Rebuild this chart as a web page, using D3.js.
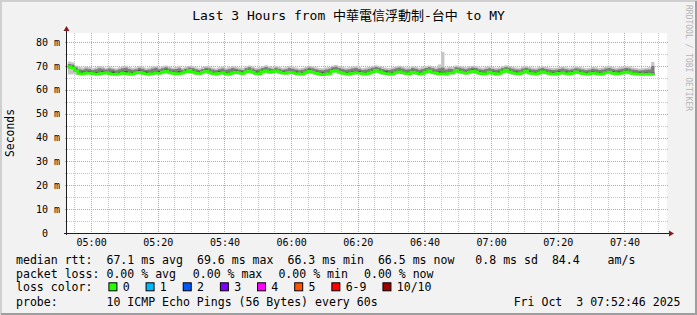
<!DOCTYPE html>
<html>
<head>
<meta charset="utf-8">
<script src="https://cdn.jsdelivr.net/npm/d3@7"></script>
<style>
  body { margin: 0; background: #f2f2f2; }
  svg { display: block; }
  text { font-family: "DejaVu Sans Mono", "Noto Sans CJK TC", monospace; fill: #000; }
</style>
</head>
<body>
<script>
const title = "Last 3 Hours from 中華電信浮動制-台中 to MY";
const yLabel = "Seconds";
const watermark = "RRDTOOL / TOBI OETIKER";

// one sample per minute, first one at 04:53
const windowStart = new Date(2025, 9, 3, 4, 52, 46);
const windowEnd = new Date(2025, 9, 3, 7, 52, 46);
const firstSample = new Date(2025, 9, 3, 4, 53, 0);

const yTicks = [0, 10, 20, 30, 40, 50, 60, 70, 80];

// median rtt, ms
const median = [
  69.6, 69.2, 68.0, 66.8, 66.7, 66.9, 67.0, 66.8, 66.6, 66.7,
  66.9, 67.1, 66.8, 66.6, 66.5, 66.7, 66.9, 66.8, 66.6, 66.7,
  67.0, 67.3, 66.9, 66.7, 66.6, 66.8, 67.0, 66.9, 67.4, 67.8,
  67.2, 66.9, 66.7, 66.8, 67.0, 67.6, 68.1, 67.5, 66.9, 66.8,
  67.3, 67.9, 67.2, 66.8, 66.6, 66.9, 67.1, 66.7, 66.6, 67.0,
  67.4, 67.0, 66.8, 67.5, 68.0, 67.3, 66.8, 66.7, 67.6, 67.9,
  67.4, 67.6, 68.0, 67.4, 67.0, 66.9, 67.3, 67.1, 66.8, 66.7,
  66.6, 67.2, 67.8, 67.3, 66.9, 66.6, 66.3, 66.6, 66.8, 67.8,
  68.0, 67.3, 66.9, 66.7, 66.6, 66.9, 67.1, 67.0, 66.7, 66.6,
  66.9, 67.5, 68.1, 67.6, 67.0, 66.8, 66.6, 66.7, 67.2, 67.6,
  67.1, 66.8, 66.7, 67.4, 67.0, 66.7, 66.8, 67.5, 67.9, 67.2,
  66.9, 66.7, 66.8, 66.6, 67.1, 67.0, 68.1, 67.6, 67.2, 66.9,
  67.3, 67.8, 67.5, 66.9, 66.7, 66.8, 67.4, 66.9, 66.6, 66.8,
  67.6, 68.2, 67.5, 67.0, 66.8, 66.7, 67.2, 67.8, 67.0, 66.8,
  66.7, 67.0, 67.6, 67.1, 66.8, 66.6, 66.7, 66.9, 67.1, 66.8,
  66.7, 66.9, 67.5, 67.1, 66.8, 66.6, 66.7, 67.0, 66.8, 66.6,
  66.7, 67.2, 67.4, 66.9, 66.7, 66.8, 67.0, 67.5, 67.2, 66.8,
  66.7, 66.6, 66.5, 66.6, 66.5, 66.5
];

// smoke: spread of the pings in each minute, ms
const pingMin = [
  66.4, 66.5, 66.3, 66.2, 66.0, 66.1, 66.3, 66.2, 65.9, 66.0,
  66.2, 66.4, 66.1, 65.9, 65.9, 66.0, 66.2, 66.1, 65.9, 66.0,
  66.3, 66.5, 66.2, 66.0, 65.9, 66.1, 66.3, 66.2, 66.6, 66.9,
  66.4, 66.2, 66.0, 66.1, 66.3, 66.8, 67.0, 66.7, 66.2, 66.1,
  66.5, 66.9, 66.4, 66.1, 65.9, 66.2, 66.3, 66.0, 65.9, 66.3,
  66.6, 66.3, 66.1, 66.7, 67.1, 66.5, 66.1, 66.0, 66.8, 67.0,
  66.6, 66.8, 67.1, 66.6, 66.3, 66.2, 66.5, 66.4, 66.1, 66.0,
  65.9, 66.4, 66.9, 66.5, 66.2, 65.9, 65.8, 65.9, 66.1, 66.9,
  67.1, 66.5, 66.2, 66.0, 65.9, 66.2, 66.4, 66.3, 66.0, 65.9,
  66.2, 66.7, 67.2, 66.8, 66.3, 66.1, 65.9, 66.0, 66.5, 66.8,
  66.4, 66.1, 66.0, 66.6, 66.3, 66.0, 66.1, 66.7, 67.0, 66.5,
  66.2, 66.0, 66.1, 65.9, 66.4, 66.3, 67.2, 66.8, 66.5, 66.2,
  66.6, 67.0, 66.7, 66.2, 66.0, 66.1, 66.6, 66.2, 65.9, 66.1,
  66.8, 67.3, 66.7, 66.3, 66.1, 66.0, 66.5, 67.0, 66.3, 66.1,
  66.0, 66.3, 66.8, 66.4, 66.1, 65.9, 66.0, 66.2, 66.4, 66.1,
  66.0, 66.2, 66.7, 66.4, 66.1, 65.9, 66.0, 66.3, 66.1, 65.9,
  66.0, 66.5, 66.6, 66.2, 66.0, 66.1, 66.3, 66.7, 66.5, 66.1,
  66.0, 65.9, 65.8, 65.9, 65.9, 65.9
];
const ping2 = [
  68.9, 68.7, 67.6, 66.5, 66.4, 66.6, 66.7, 66.5, 66.3, 66.4,
  66.6, 66.8, 66.5, 66.3, 66.2, 66.4, 66.6, 66.5, 66.3, 66.4,
  66.7, 67.0, 66.6, 66.4, 66.3, 66.5, 66.7, 66.6, 67.1, 67.4,
  66.9, 66.6, 66.4, 66.5, 66.7, 67.3, 67.7, 67.2, 66.6, 66.5,
  67.0, 67.5, 66.9, 66.5, 66.3, 66.6, 66.8, 66.4, 66.3, 66.7,
  67.1, 66.7, 66.5, 67.2, 67.7, 67.0, 66.5, 66.4, 67.3, 67.6,
  67.1, 67.3, 67.7, 67.1, 66.7, 66.6, 67.0, 66.8, 66.5, 66.4,
  66.3, 66.9, 67.5, 67.0, 66.6, 66.3, 66.2, 66.3, 66.5, 67.5,
  67.7, 67.0, 66.6, 66.4, 66.3, 66.6, 66.8, 66.7, 66.4, 66.3,
  66.6, 67.2, 67.8, 67.3, 66.7, 66.5, 66.3, 66.4, 66.9, 67.3,
  66.8, 66.5, 66.4, 67.1, 66.7, 66.4, 66.5, 67.2, 67.6, 66.9,
  66.6, 66.4, 66.5, 66.3, 66.8, 66.7, 67.8, 67.3, 66.9, 66.6,
  67.0, 67.5, 67.2, 66.6, 66.4, 66.5, 67.1, 66.6, 66.3, 66.5,
  67.3, 67.9, 67.2, 66.7, 66.5, 66.4, 66.9, 67.5, 66.7, 66.5,
  66.4, 66.7, 67.3, 66.8, 66.5, 66.3, 66.4, 66.6, 66.8, 66.5,
  66.4, 66.6, 67.2, 66.8, 66.5, 66.3, 66.4, 66.7, 66.5, 66.3,
  66.4, 66.9, 67.1, 66.6, 66.4, 66.5, 66.7, 67.2, 66.9, 66.5,
  66.4, 66.3, 66.2, 66.3, 66.2, 66.2
];
const pingUp = [
  70.0, 69.8, 68.6, 67.3, 67.5, 67.2, 67.6, 67.1, 67.4, 67.0,
  67.6, 67.4, 67.1, 67.5, 66.9, 67.3, 67.2, 67.6, 67.0, 67.4,
  67.3, 68.1, 67.2, 67.5, 67.0, 67.4, 67.3, 67.7, 67.8, 68.5,
  67.6, 67.5, 67.1, 67.6, 67.3, 68.4, 68.5, 68.2, 67.3, 67.5,
  67.7, 68.6, 67.5, 67.4, 66.9, 67.6, 67.4, 67.3, 67.1, 67.4,
  68.1, 67.3, 67.6, 67.8, 68.7, 67.7, 67.5, 67.0, 68.3, 68.2,
  68.0, 67.9, 68.6, 67.7, 67.6, 67.2, 67.9, 67.4, 67.5, 67.0,
  67.2, 67.5, 68.5, 67.6, 67.5, 66.9, 67.2, 67.0, 67.3, 68.4,
  68.4, 67.9, 67.2, 67.4, 67.0, 67.5, 67.4, 67.7, 67.0, 67.2,
  67.4, 68.2, 68.5, 68.2, 67.3, 67.6, 66.9, 67.4, 67.6, 68.3,
  67.5, 67.4, 67.0, 68.0, 67.3, 67.4, 67.1, 68.1, 68.3, 67.9,
  67.3, 67.5, 67.4, 67.1, 67.6, 67.4, 68.6, 68.3, 67.5, 67.6,
  67.7, 68.5, 67.8, 67.5, 67.1, 67.4, 67.9, 67.5, 67.0, 67.5,
  68.2, 68.6, 68.1, 67.4, 67.5, 67.0, 67.8, 68.3, 67.6, 67.1,
  67.4, 67.3, 68.2, 67.6, 67.2, 67.3, 67.0, 67.6, 67.4, 67.5,
  67.0, 67.5, 67.8, 67.7, 67.1, 67.3, 67.0, 67.6, 67.2, 67.2,
  67.1, 67.9, 67.8, 67.6, 67.0, 67.5, 67.3, 68.1, 67.6, 67.4,
  67.1, 67.2, 66.9, 67.2, 67.0, 67.1
];
const ping5 = [
  70.8, 70.6, 69.4, 68.6, 68.4, 68.9, 68.7, 68.3, 68.6, 69.0,
  68.8, 68.5, 68.9, 68.6, 68.2, 68.6, 69.0, 69.2, 68.7, 68.4,
  68.6, 69.1, 68.8, 68.3, 68.5, 68.9, 69.2, 68.6, 69.0, 69.4,
  68.9, 68.6, 68.7, 69.0, 68.4, 68.8, 69.3, 69.1, 68.6, 68.3,
  68.7, 69.2, 69.0, 68.5, 68.2, 68.6, 68.9, 68.4, 68.7, 69.1,
  68.8, 68.5, 68.3, 69.0, 69.4, 68.9, 68.4, 68.6, 69.1, 69.5,
  69.0, 68.7, 69.2, 68.8, 68.4, 68.6, 69.1, 68.8, 68.5, 68.2,
  68.4, 68.8, 69.3, 69.0, 68.6, 68.3, 68.2, 68.5, 68.8, 69.4,
  69.6, 69.1, 68.7, 68.4, 68.6, 68.9, 69.1, 68.7, 68.3, 68.5,
  68.8, 69.2, 69.5, 69.2, 68.7, 68.4, 68.3, 68.6, 69.0, 69.3,
  68.9, 68.5, 68.6, 69.1, 68.8, 68.4, 68.7, 69.1, 69.4, 69.0,
  68.6, 69.0, 69.3, 68.5, 68.8, 68.7, 69.4, 69.2, 68.9, 68.6,
  69.0, 69.3, 69.1, 68.6, 68.4, 68.7, 69.0, 68.7, 68.4, 68.6,
  69.1, 69.5, 69.2, 68.8, 68.5, 68.4, 68.9, 69.2, 68.8, 68.5,
  68.4, 68.8, 69.1, 68.7, 68.5, 68.3, 68.4, 68.7, 68.9, 68.6,
  68.4, 68.6, 69.0, 68.8, 68.5, 68.2, 68.4, 68.8, 68.6, 68.3,
  68.5, 68.9, 69.1, 68.7, 68.4, 68.6, 68.8, 69.1, 68.9, 68.5,
  68.3, 68.1, 68.2, 68.4, 68.5, 70.0
];
const pingMax = [
  71.8, 71.5, 70.2, 69.6, 69.3, 69.8, 69.5, 69.1, 69.4, 69.9,
  69.6, 69.2, 69.7, 69.3, 69.0, 69.4, 69.8, 70.1, 69.5, 69.2,
  69.4, 69.9, 69.6, 69.1, 69.3, 69.7, 70.0, 69.4, 69.8, 70.2,
  69.7, 69.3, 69.5, 69.8, 69.2, 69.6, 70.1, 69.9, 69.4, 69.1,
  69.5, 70.0, 69.8, 69.3, 69.0, 69.4, 69.7, 69.2, 69.5, 69.9,
  69.6, 69.3, 69.1, 69.8, 70.2, 69.7, 69.2, 69.4, 69.9, 70.3,
  69.8, 69.5, 70.0, 69.6, 69.2, 69.4, 69.9, 69.6, 69.3, 69.0,
  69.2, 69.6, 70.1, 69.8, 69.4, 69.1, 69.0, 69.3, 69.6, 70.2,
  70.4, 69.9, 69.5, 69.2, 69.4, 69.7, 69.9, 69.5, 69.1, 69.3,
  69.6, 70.0, 70.3, 70.0, 69.5, 69.2, 69.1, 69.4, 69.8, 70.1,
  69.7, 69.3, 69.4, 69.9, 69.6, 69.2, 69.5, 69.9, 70.2, 69.8,
  69.4, 70.6, 75.8, 69.3, 69.6, 69.5, 70.2, 70.0, 69.7, 69.4,
  69.8, 70.1, 69.9, 69.4, 69.2, 69.5, 69.8, 69.5, 69.2, 69.4,
  69.9, 70.3, 70.0, 69.6, 69.3, 69.2, 69.7, 70.0, 69.6, 69.3,
  69.2, 69.6, 69.9, 69.5, 69.3, 69.1, 69.2, 69.5, 69.7, 69.4,
  69.2, 69.4, 69.8, 69.6, 69.3, 69.0, 69.2, 69.6, 69.4, 69.1,
  69.3, 69.7, 69.9, 69.5, 69.2, 69.4, 69.6, 69.9, 69.7, 69.3,
  69.1, 68.9, 69.0, 69.2, 69.4, 71.6
];

const rttStats = ["67.1 ms avg", "69.6 ms max", "66.3 ms min", "66.5 ms now", "0.8 ms sd", "84.4", "am/s"];
const lossStats = ["0.00 % avg", "0.00 % max", "0.00 % min", "0.00 % now"];
const lossLabels = ["0", "1", "2", "3", "4", "5", "6-9", "10/10"];
const lossColors = ["#26ff00", "#00b8ff", "#0059ff", "#7e00ff", "#ff00ff", "#ff5500", "#ff0000", "#a10000"];
const probeText = "10 ICMP Echo Pings (56 Bytes) every 60s";
const stampText = "Fri Oct  3 07:52:46 2025";

const width = 697, height = 315;
const plotLeft = 67, plotRight = 667, plotTop = 33, plotBottom = 233;

const x = d3.scaleTime().domain([windowStart, windowEnd]).range([plotLeft, plotRight]);
const y = d3.scaleLinear().domain([0, 200 / 2.3875]).range([plotBottom, plotTop]);

const svg = d3.select("body").append("svg")
  .attr("width", width)
  .attr("height", height);

// background + rrdtool shade frame
svg.append("rect").attr("width", width).attr("height", height).attr("fill", "#f2f2f2");
svg.append("path").attr("d", `M1,${height} V1 H${width}`).attr("fill", "none")
  .attr("stroke", "#cfcfcf").attr("stroke-width", 2);
svg.append("path").attr("d", `M1,${height - 1} H${width - 1} V1`).attr("fill", "none")
  .attr("stroke", "#9e9e9e").attr("stroke-width", 2);

svg.append("rect")
  .attr("x", plotLeft).attr("y", plotTop)
  .attr("width", plotRight - plotLeft).attr("height", plotBottom - plotTop)
  .attr("fill", "#fff");

// grid
const grid = svg.append("g").attr("stroke-dasharray", "1,1").attr("fill", "none");
const minutes = d3.timeMinute.every(5).range(windowStart, windowEnd);
grid.selectAll("line.v")
  .data(minutes)
  .join("line")
  .attr("class", "v")
  .attr("x1", d => Math.round(x(d)) + 0.5).attr("x2", d => Math.round(x(d)) + 0.5)
  .attr("y1", plotTop).attr("y2", plotBottom + 2)
  .attr("stroke", d => d.getMinutes() % 20 === 0 ? "#e89595" : "#c6c6c6");
grid.selectAll("line.h")
  .data(d3.range(5, 84, 5))
  .join("line")
  .attr("class", "h")
  .attr("x1", plotLeft - 2).attr("x2", plotRight + 2)
  .attr("y1", d => Math.round(y(d)) + 0.5).attr("y2", d => Math.round(y(d)) + 0.5)
  .attr("stroke", d => d % 10 === 0 ? "#e89595" : "#c6c6c6");

// samples
const step = 60000;
const samples = median.map((m, i) => ({
  t: new Date(+firstSample + i * step),
  m,
  s: [pingMin[i], ping2[i], pingUp[i], ping5[i], pingMax[i]].sort(d3.ascending)
}));
const last = samples[samples.length - 1];
const stepped = [...samples, { ...last, t: new Date(+last.t + step) }];

svg.append("clipPath").attr("id", "plot")
  .append("rect")
  .attr("x", plotLeft).attr("y", plotTop)
  .attr("width", plotRight - plotLeft).attr("height", plotBottom - plotTop);

const smoke = svg.append("g").attr("clip-path", "url(#plot)");
const band = (lo, hi) => d3.area()
  .curve(d3.curveStepAfter)
  .x(d => x(d.t))
  .y0(d => y(lo(d)))
  .y1(d => y(hi(d)));

smoke.append("path").datum(stepped).attr("fill", "#c6c6c6")
  .attr("d", band(d => d.s[0], d => d.s[4]));
smoke.append("path").datum(stepped).attr("fill", "#7e7e7e")
  .attr("d", band(d => d.s[1], d => d.s[3]));
smoke.append("path").datum(stepped).attr("fill", "#2a2a2a")
  .attr("d", band(d => d.m, d => d.s[2]));

// median line, coloured by loss (no loss in this window)
smoke.append("path").datum(stepped)
  .attr("fill", "none")
  .attr("stroke", lossColors[0])
  .attr("stroke-width", 2.6)
  .attr("d", d3.line().curve(d3.curveStepAfter).x(d => x(d.t)).y(d => y(d.m)));

// axes
svg.append("line")
  .attr("x1", plotLeft - 0.5).attr("x2", plotLeft - 0.5)
  .attr("y1", plotBottom + 2).attr("y2", plotTop - 3)
  .attr("stroke", "#1f1f1f");
svg.append("line")
  .attr("x1", plotLeft - 3).attr("x2", plotRight + 3)
  .attr("y1", plotBottom + 0.5).attr("y2", plotBottom + 0.5)
  .attr("stroke", "#1f1f1f");
svg.append("path")
  .attr("d", `M${plotLeft - 3.5},${plotTop - 2} L${plotLeft - 0.5},${plotTop - 7} L${plotLeft + 2.5},${plotTop - 2} Z`)
  .attr("fill", "#801f1f");
svg.append("path")
  .attr("d", `M${plotRight + 2},${plotBottom - 2.5} L${plotRight + 7},${plotBottom + 0.5} L${plotRight + 2},${plotBottom + 3.5} Z`)
  .attr("fill", "#801f1f");

const yAxis = d3.axisLeft(y)
  .tickValues(yTicks)
  .tickSize(0)
  .tickPadding(6.5)
  .tickFormat(d => d === 0 ? "0  " : `${d} m`);
svg.append("g")
  .attr("transform", `translate(${plotLeft - 0.5},0)`)
  .call(yAxis)
  .call(g => g.select(".domain").remove())
  .call(g => g.selectAll("text")
    .attr("font-family", "DejaVu Sans Mono")
    .attr("font-size", 10)
    .attr("xml:space", "preserve")
    .style("white-space", "pre"))
  .attr("font-family", null).attr("font-size", null);

const xAxis = d3.axisBottom(x)
  .ticks(d3.timeMinute.every(20))
  .tickSize(0)
  .tickPadding(6)
  .tickFormat(d3.timeFormat("%H:%M"));
svg.append("g")
  .attr("transform", `translate(0,${plotBottom})`)
  .call(xAxis)
  .call(g => g.select(".domain").remove())
  .call(g => g.selectAll("text").attr("font-size", 10))
  .attr("font-family", null).attr("font-size", null);

// title, axis label, watermark
svg.append("text")
  .attr("x", width / 2).attr("y", 19.5)
  .attr("text-anchor", "middle")
  .attr("font-size", 13)
  .text(title);

svg.append("text")
  .attr("transform", `translate(14,133) rotate(-90)`)
  .attr("text-anchor", "middle")
  .attr("font-size", 11.4)
  .text(yLabel);

svg.append("text")
  .attr("transform", `translate(686,5) rotate(90)`)
  .attr("font-size", 8)
  .style("fill", "#b4b4b4")
  .text(watermark);

// legend, laid out on a monospace character grid
const charW = 6.96;
const col = c => 16 + c * charW;
const legend = svg.append("g").attr("font-size", 11.56).attr("xml:space", "preserve");
const rowY = [263.5, 277.5, 291.3, 305.5];

legend.append("text").attr("x", col(0)).attr("y", rowY[0]).text("median rtt:");
const rttCols = [13, 26, 39, 52, 66, 77, 85];
legend.selectAll("text.rtt").data(rttStats).join("text")
  .attr("class", "rtt").attr("x", (d, i) => col(rttCols[i])).attr("y", rowY[0]).text(d => d);

legend.append("text").attr("x", col(0)).attr("y", rowY[1]).text("packet loss:");
const lossCols = [13, 25.4, 37.7, 50];
legend.selectAll("text.loss").data(lossStats).join("text")
  .attr("class", "loss").attr("x", (d, i) => col(lossCols[i])).attr("y", rowY[1]).text(d => d);

legend.append("text").attr("x", col(0)).attr("y", rowY[2]).text("loss color:");
let bx = 108.4;
lossLabels.forEach((label, i) => {
  legend.append("rect")
    .attr("x", bx + 0.5).attr("y", rowY[2] - 8.5)
    .attr("width", 8).attr("height", 8)
    .attr("fill", lossColors[i])
    .attr("stroke", "#000");
  legend.append("text").attr("x", bx + 14.3).attr("y", rowY[2]).text(label);
  bx += 14.3 + label.length * charW + 15.9;
});

legend.append("text").attr("x", col(0)).attr("y", rowY[3]).text("probe:");
legend.append("text").attr("x", col(13)).attr("y", rowY[3]).text(probeText);
legend.append("text").attr("x", 680.5).attr("y", rowY[3])
  .attr("text-anchor", "end").style("white-space", "pre").text(stampText);
</script>
</body>
</html>
